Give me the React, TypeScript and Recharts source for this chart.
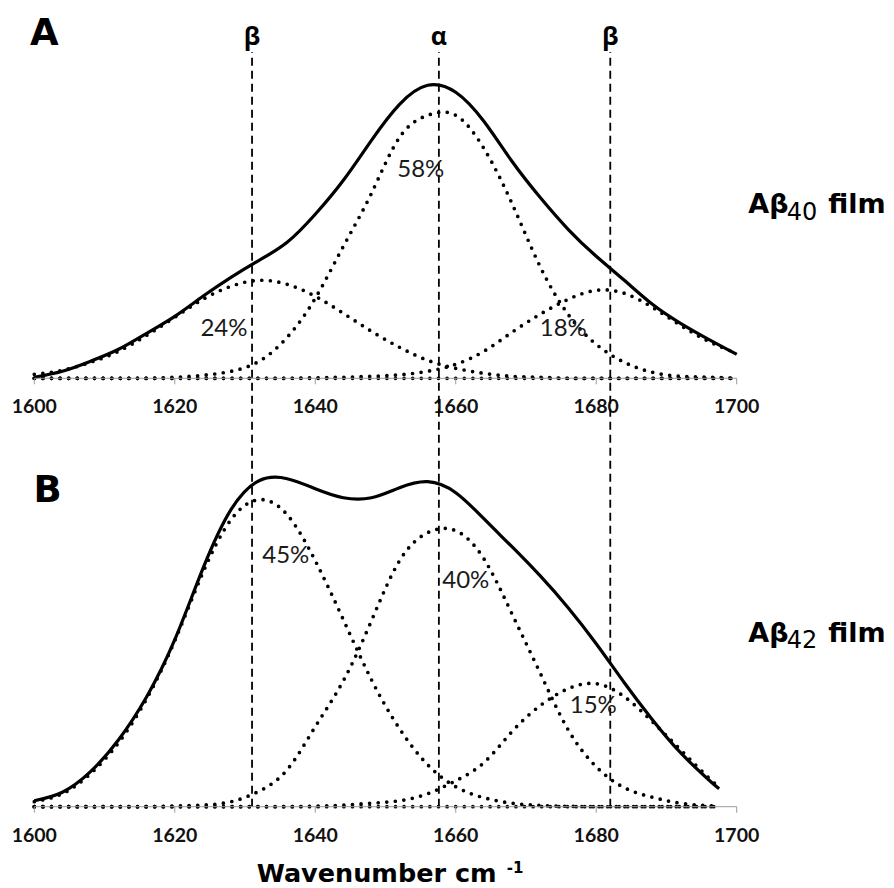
import React from 'react';
import { LineChart, Line, XAxis, YAxis, ReferenceLine } from 'recharts';

// Amide I band of A-beta films: measured envelope (solid) and fitted
// component bands (dotted). Intensities in arbitrary absorbance units.

// ---- Panel A: Aβ40 film ----
const wavenumbersA = [
  1600, 1604, 1608, 1612, 1616, 1620, 1624, 1628, 1632, 1636, 1640, 1644, 1648,
  1652, 1656, 1660, 1664, 1668, 1672, 1676, 1680, 1684, 1688, 1692, 1696, 1700,
];
const envelopeA = [
  1, 7, 17, 29, 45, 62, 82, 101, 118, 136, 164, 198, 238,
  274, 293, 286, 257, 217, 181, 149, 122, 98, 74, 55, 39, 24,
];
const beta1631A = [
  4, 8, 16, 27, 43, 61, 79, 92, 98, 94, 82, 65, 47,
  31, 18, 10, 5, 2, 1, 0, 0, 0, 0, 0, 0, 0,
];
const alpha1657A = [
  0, 0, 0, 0, 0, 1, 3, 7, 17, 41, 80, 132, 185,
  241, 263, 263, 230, 175, 112, 64, 34, 16, 6, 2, 1, 0,
];
const beta1682A = [
  0, 0, 0, 0, 0, 0, 0, 0, 0, 0, 0.5, 1, 2,
  3.5, 7, 14, 27, 46, 64, 79, 88, 85, 71, 53, 37, 25,
];

// ---- Panel B: Aβ42 film ----
const wavenumbersB = [
  1600, 1604, 1608, 1612, 1616, 1620, 1624, 1628, 1632, 1636, 1640, 1644, 1648,
  1652, 1656, 1660, 1664, 1668, 1672, 1676, 1680, 1684, 1688, 1692, 1696, 1697.5,
];
const envelopeB = [
  6, 14.5, 35, 67, 110, 167, 238, 297, 326, 328, 318, 309, 309,
  319, 325, 314, 288, 260, 231, 199, 163, 124, 87, 54, 27, 18,
];
const beta1631B = [
  5, 13, 33, 64, 108, 166, 234, 287, 307, 292, 246, 187, 127,
  78, 42, 20, 9, 3.5, 1.2, 0.4, 0, 0, 0, 0, 0, 0,
];
const alpha1658B = [
  0, 0, 0, 0, 0, 0.6, 1.6, 5, 15.5, 37, 80, 126, 186,
  246, 274, 276, 248, 193, 134, 77, 40, 19, 9.5, 3.5, 1, 0.7,
];
const beta1679B = [
  0, 0, 0, 0, 0, 0, 0, 0, 0, 0, 0.5, 1.5, 3.5,
  6, 13, 26, 44, 75, 101, 118, 123, 110, 85, 57, 29, 20,
];

const xTicks = [1600, 1620, 1640, 1660, 1680, 1700];

// band assignments marked by dashed lines
const assignmentPositions = [1631, 1657.6, 1682];
const assignmentLabels = ['β', 'α', 'β'];

// band fractions (percent of total area)
const fractionLabelsA = ['24%', '58%', '18%'];
const fractionLabelsB = ['45%', '40%', '15%'];

const rowsA = wavenumbersA.map((w, i) => ({
  w,
  envelope: envelopeA[i],
  b1: beta1631A[i],
  a: alpha1657A[i],
  b2: beta1682A[i],
}));

const rowsB = wavenumbersB.map((w, i) => ({
  w,
  envelope: envelopeB[i],
  b1: beta1631B[i],
  a: alpha1658B[i],
  b2: beta1679B[i],
}));

const W = 894;
const H = 888;
const LEFT = 34.3;
const RIGHT = 157.3;

const DOT_WIDTH = 3.7;
const DOT_PATTERN = '0 8.6';

const dotted = {
  stroke: '#000',
  strokeWidth: DOT_WIDTH,
  strokeDasharray: DOT_PATTERN,
  strokeLinecap: 'round' as const,
  dot: false,
  activeDot: false,
  isAnimationActive: false,
  type: 'natural' as const,
};

const solid = {
  stroke: '#000',
  strokeWidth: 3.2,
  dot: false,
  activeDot: false,
  isAnimationActive: false,
  type: 'natural' as const,
};

const axisGray = '#9a9a9a';

function WaveAxis() {
  return (
    <XAxis
      dataKey="w"
      type="number"
      domain={[1600, 1700]}
      ticks={xTicks}
      interval={0}
      height={30}
      tickSize={6}
      tickMargin={15}
      axisLine={{ stroke: axisGray, strokeWidth: 1 }}
      tickLine={{ stroke: axisGray, strokeWidth: 1 }}
      tick={{ fontFamily: 'Lato', fontWeight: 700, fontSize: 19.5, fill: '#111' }}
    />
  );
}

const boldSans = 'DejaVu Sans';
const pctStyle = { fontFamily: 'Lato', fontSize: 24, fill: '#1a1a1a' };

export default function App() {
  return (
    <div
      style={{
        position: 'absolute',
        left: 0,
        top: 0,
        width: W,
        height: H,
        background: '#fff',
        overflow: 'hidden',
      }}
    >
      {/* Panel A */}
      <div style={{ position: 'absolute', left: 0, top: 0 }}>
        <LineChart
          width={W}
          height={440}
          data={rowsA}
          margin={{ top: 78.3, right: RIGHT, bottom: 31.7, left: LEFT }}
        >
          <WaveAxis />
          <YAxis hide type="number" domain={[0, 300]} />
          <ReferenceLine
            segment={[{ x: 1600, y: 0 }, { x: 1700, y: 0 }]}
            stroke="#000"
            strokeWidth={DOT_WIDTH}
            strokeDasharray={DOT_PATTERN}
            strokeLinecap="round"
          />
          <Line dataKey="b1" {...dotted} />
          <Line dataKey="a" {...dotted} />
          <Line dataKey="b2" {...dotted} />
          <Line dataKey="envelope" {...solid} />
        </LineChart>
      </div>

      {/* Panel B, whose plot area reaches up so the assignment lines span both panels */}
      <div style={{ position: 'absolute', left: 0, top: 0 }}>
        <LineChart
          width={W}
          height={H}
          data={rowsB}
          margin={{ top: 52, right: RIGHT, bottom: 51.3, left: LEFT }}
        >
          <WaveAxis />
          <YAxis hide type="number" domain={[0, 754.7]} />
          <ReferenceLine
            segment={[{ x: 1600, y: 0 }, { x: 1697.5, y: 0 }]}
            stroke="#000"
            strokeWidth={DOT_WIDTH}
            strokeDasharray={DOT_PATTERN}
            strokeLinecap="round"
          />
          <Line dataKey="b1" {...dotted} />
          <Line dataKey="a" {...dotted} />
          <Line dataKey="b2" {...dotted} />
          <Line dataKey="envelope" {...solid} />
          {assignmentPositions.map((x, i) => (
            <ReferenceLine
              key={`assign-${i}`}
              x={x}
              stroke="#000"
              strokeWidth={1.8}
              strokeDasharray="8 5"
              label={{
                value: assignmentLabels[i],
                position: 'top',
                offset: 7,
                fontFamily: 'Open Sans',
                fontWeight: 700,
                fontSize: 25,
                fill: '#000',
              }}
            />
          ))}
        </LineChart>
      </div>

      {/* Panel letters, sample names, band fractions and axis title */}
      <svg
        width={W}
        height={H}
        style={{ position: 'absolute', left: 0, top: 0, pointerEvents: 'none' }}
      >
        <text x={30} y={45} fontFamily={boldSans} fontWeight={700} fontSize={37} fill="#000">
          A
        </text>
        <text x={33.4} y={501.7} fontFamily={boldSans} fontWeight={700} fontSize={37} fill="#000">
          B
        </text>

        <text fontFamily={boldSans} fill="#000">
          <tspan x={748.3} y={213.3} fontWeight={700} fontSize={27}>Aβ</tspan>
          <tspan x={786.7} y={220} fontWeight={400} fontSize={24}>40</tspan>
          <tspan x={828.3} y={213.3} fontWeight={700} fontSize={27}>film</tspan>
        </text>
        <text fontFamily={boldSans} fill="#000">
          <tspan x={748.3} y={641.7} fontWeight={700} fontSize={27}>Aβ</tspan>
          <tspan x={786.7} y={648.4} fontWeight={400} fontSize={24}>42</tspan>
          <tspan x={828.3} y={641.7} fontWeight={700} fontSize={27}>film</tspan>
        </text>

        <text {...pctStyle} x={224} y={335.5} textAnchor="middle">{fractionLabelsA[0]}</text>
        <text {...pctStyle} x={420.8} y={177.3} textAnchor="middle">{fractionLabelsA[1]}</text>
        <text {...pctStyle} x={563.3} y={335.7} textAnchor="middle">{fractionLabelsA[2]}</text>
        <text {...pctStyle} x={285.8} y={563.3} textAnchor="middle">{fractionLabelsB[0]}</text>
        <text {...pctStyle} x={465.8} y={587.7} textAnchor="middle">{fractionLabelsB[1]}</text>
        <text {...pctStyle} x={593.3} y={712.7} textAnchor="middle">{fractionLabelsB[2]}</text>

        <text fontFamily={boldSans} fontWeight={700} fill="#000">
          <tspan x={256.7} y={881.5} fontSize={25.5}>Wavenumber cm</tspan>
          <tspan x={506.7} y={872.5} fontSize={15}>-1</tspan>
        </text>
      </svg>
    </div>
  );
}
